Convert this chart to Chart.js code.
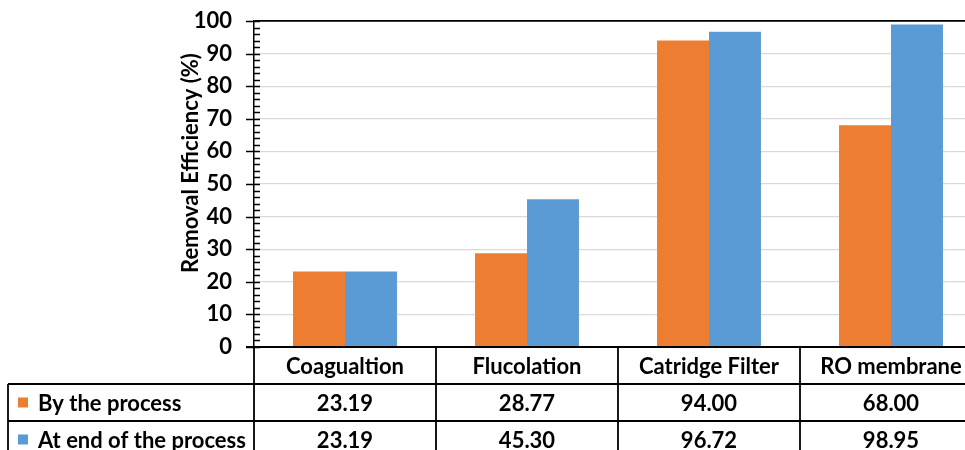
<!DOCTYPE html>
<html>
<head>
<meta charset="utf-8">
<script src="https://cdn.jsdelivr.net/npm/chart.js@4/dist/chart.umd.min.js"></script>
<style>
  html, body { margin: 0; padding: 0; background: #fff; overflow: hidden; }
  #wrap { width: 1000px; height: 450px; }
</style>
</head>
<body>
<div id="wrap"><canvas id="chart" width="1000" height="450"></canvas></div>
<script>
// Treatment stages and removal efficiency (%)
const categories = ['Coagualtion', 'Flucolation', 'Catridge Filter', 'RO membrane'];
const byProcess = [23.19, 28.77, 94.00, 68.00];
const atEndOfProcess = [23.19, 45.30, 96.72, 98.95];
const seriesNames = ['By the process', 'At end of the process'];
const seriesColors = ['#ED7D31', '#5B9BD5'];
const yTickValues = [0, 10, 20, 30, 40, 50, 60, 70, 80, 90, 100];
const yTitle = 'Removal Efficiency (%)';

const FONT = 'Lato, "Open Sans", sans-serif';
const FONT_SIZE = 22;
const ROW_H = 37;

// Y-axis title, tick marks and the data table beneath the plot
const tablePlugin = {
  id: 'dataTable',
  afterDraw(chart) {
    const ctx = chart.ctx;
    const xs = chart.scales.x;
    const ys = chart.scales.y;
    const area = chart.chartArea;
    ctx.save();

    // axis title
    ctx.translate(191, 163);
    ctx.rotate(-Math.PI / 2);
    ctx.fillStyle = '#000';
    ctx.font = 'bold ' + FONT_SIZE + 'px ' + FONT;
    ctx.textAlign = 'center';
    ctx.textBaseline = 'middle';
    ctx.fillText(yTitle, 0, 0);
    ctx.setTransform(1, 0, 0, 1, 0, 0);

    // major (crossing) and minor (inside) tick marks
    ctx.strokeStyle = '#000';
    ctx.lineWidth = 1.5;
    ctx.beginPath();
    for (let v = ys.min; v <= ys.max; v += 2) {
      const py = Math.round(ys.getPixelForValue(v)) + 0.5;
      const major = yTickValues.includes(v);
      ctx.moveTo(area.left - (major ? 8 : 0), py);
      ctx.lineTo(area.left + 6, py);
    }
    ctx.stroke();

    // table grid
    const n = categories.length;
    const colW = (xs.right - xs.left) / n;
    const top = area.bottom;
    const r1 = top + ROW_H, r2 = r1 + ROW_H, r3 = r2 + ROW_H;
    const tableLeft = 8;
    ctx.lineWidth = 1.8;
    ctx.beginPath();
    ctx.moveTo(area.left - 8, top); ctx.lineTo(xs.right, top);
    ctx.moveTo(tableLeft, r1); ctx.lineTo(xs.right, r1);
    ctx.moveTo(tableLeft, r2); ctx.lineTo(xs.right, r2);
    ctx.moveTo(tableLeft, r3); ctx.lineTo(xs.right, r3);
    ctx.moveTo(tableLeft, r1); ctx.lineTo(tableLeft, r3);
    for (let i = 0; i <= n; i++) {
      const px = xs.left + i * colW;
      ctx.moveTo(px, top); ctx.lineTo(px, r3);
    }
    ctx.stroke();

    // header and values
    ctx.fillStyle = '#000';
    ctx.font = 'bold ' + FONT_SIZE + 'px ' + FONT;
    ctx.textAlign = 'center';
    ctx.textBaseline = 'middle';
    const rows = [byProcess, atEndOfProcess];
    categories.forEach((c, i) => {
      const cx = xs.getPixelForValue(i);
      ctx.fillText(c, cx, top + ROW_H / 2 + 1);
      rows.forEach((vals, k) => {
        ctx.fillText(vals[i].toFixed(2), cx, r1 + k * ROW_H + ROW_H / 2 + 1);
      });
    });

    // legend keys in the first column
    ctx.textAlign = 'left';
    seriesNames.forEach((name, k) => {
      const cy = r1 + k * ROW_H + ROW_H / 2;
      ctx.fillStyle = seriesColors[k];
      ctx.fillRect(18, cy - 5, 10, 10);
      ctx.fillStyle = '#000';
      ctx.fillText(name, 38, cy + 1);
    });
    ctx.restore();
  }
};

new Chart(document.getElementById('chart'), {
  type: 'bar',
  data: {
    labels: categories,
    datasets: [
      { label: seriesNames[0], data: byProcess, backgroundColor: seriesColors[0], borderWidth: 0 },
      { label: seriesNames[1], data: atEndOfProcess, backgroundColor: seriesColors[1], borderWidth: 0 }
    ]
  },
  options: {
    responsive: false,
    animation: false,
    devicePixelRatio: 1,
    layout: { padding: { top: 21, right: 18, left: 0, bottom: 0 } },
    datasets: { bar: { categoryPercentage: 0.571, barPercentage: 1 } },
    plugins: { legend: { display: false }, tooltip: { enabled: false }, title: { display: false } },
    scales: {
      x: {
        grid: { display: false },
        border: { display: true, color: '#000', width: 1.5 },
        ticks: { display: false },
        afterFit(scale) {
          scale.height = 103;
          scale.paddingLeft = 0; scale.paddingRight = 0;
        }
      },
      y: {
        min: 0,
        max: 100,
        afterBuildTicks(scale) { scale.ticks = yTickValues.map(v => ({ value: v })); },
        ticks: {
          color: '#000',
          padding: 22,
          font: { family: FONT, size: FONT_SIZE, weight: 'bold' }
        },
        grid: {
          drawTicks: false,
          color: c => c.tick && c.tick.value === 100 ? '#000' : (c.tick && c.tick.value === 0 ? 'rgba(0,0,0,0)' : '#d9d9d9'),
          lineWidth: c => c.tick && c.tick.value === 100 ? 1.8 : 1.2
        },
        border: { display: true, color: '#000', width: 1.5 },
        afterFit(scale) {
          scale.width = 254;
          scale.paddingTop = 0; scale.paddingBottom = 0;
        }
      }
    }
  },
  plugins: [tablePlugin]
});
</script>
</body>
</html>
